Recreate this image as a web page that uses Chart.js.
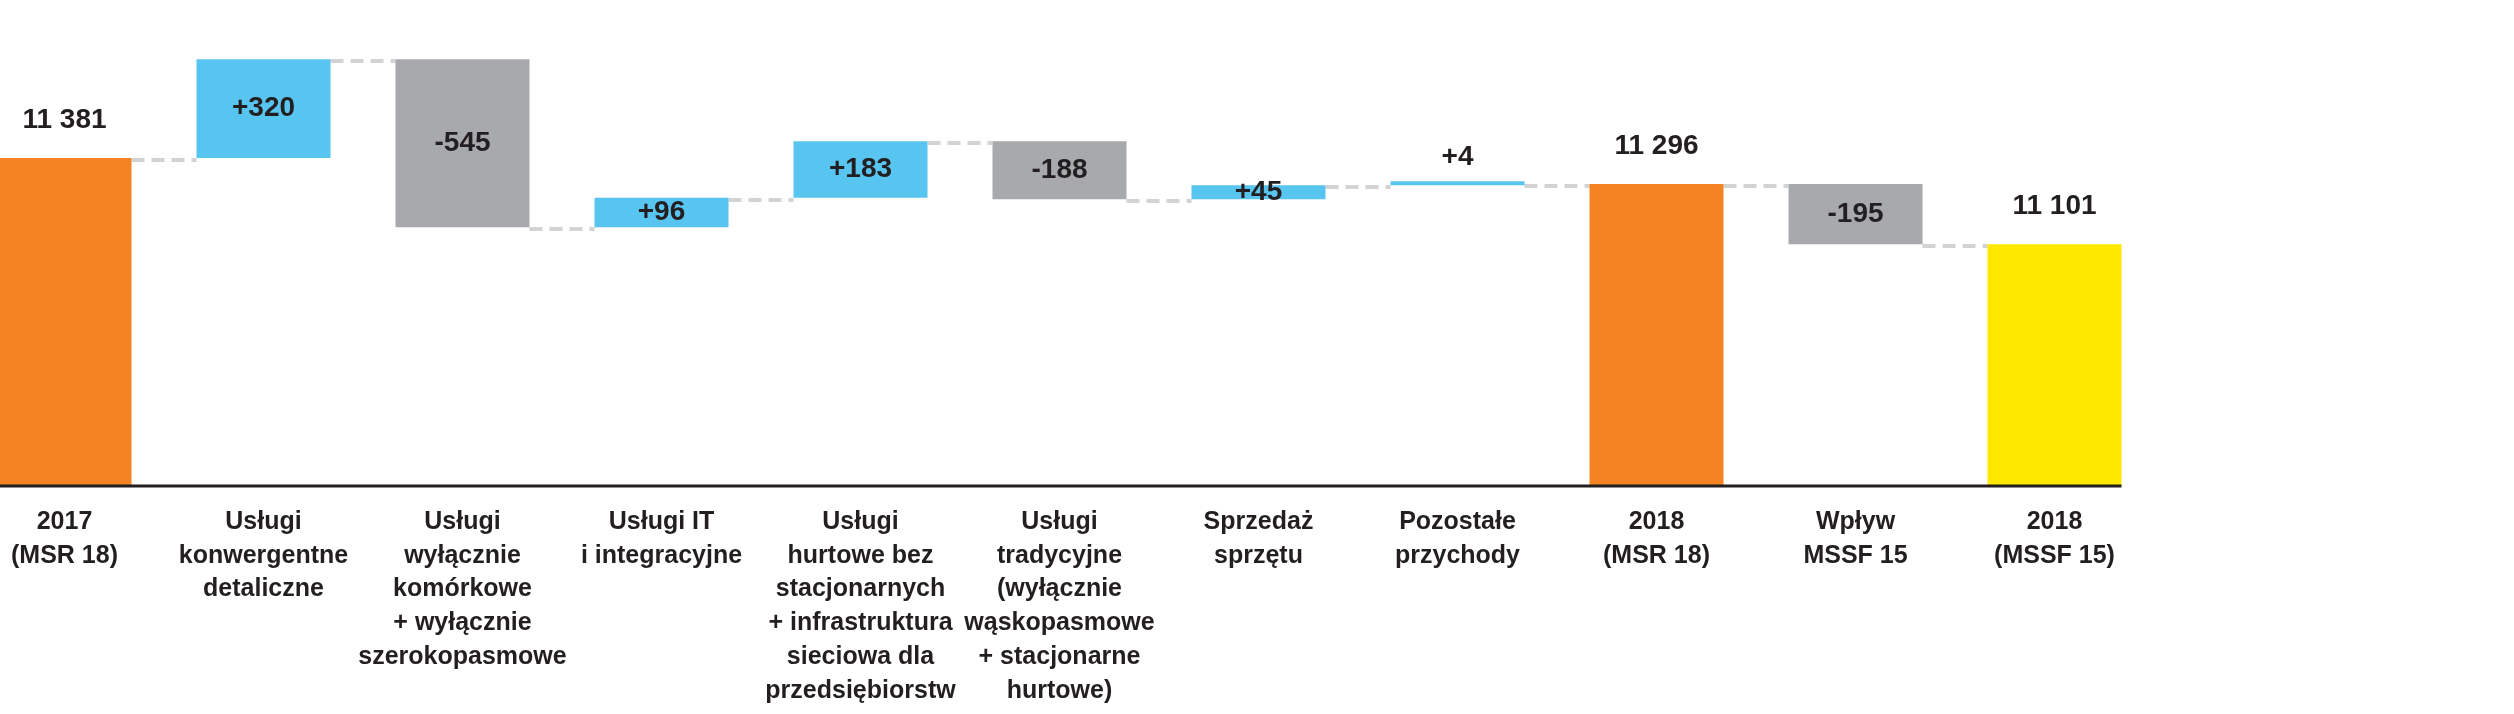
<!DOCTYPE html>
<html>
<head>
<meta charset="utf-8">
<script src="https://cdn.jsdelivr.net/npm/chart.js@4.4.1/dist/chart.umd.min.js"></script>
<style>
  html, body { margin: 0; padding: 0; background: #fff; }
  #wrap { position: relative; width: 2514px; height: 714px; overflow: hidden; }
  #chart { position: absolute; left: -35px; top: 0; }
</style>
</head>
<body>
<div id="wrap"><canvas id="chart" width="2549" height="714"></canvas></div>
<script>
// categories (multi-line tick labels)
const categories = [
    ['2017', '(MSR 18)'],
    ['Usługi', 'konwergentne', 'detaliczne'],
    ['Usługi', 'wyłącznie', 'komórkowe', '+ wyłącznie', 'szerokopasmowe'],
    ['Usługi IT', 'i integracyjne'],
    ['Usługi', 'hurtowe bez', 'stacjonarnych', '+ infrastruktura', 'sieciowa dla', 'przedsiębiorstw'],
    ['Usługi', 'tradycyjne', '(wyłącznie', 'wąskopasmowe', '+ stacjonarne', 'hurtowe)'],
    ['Sprzedaż', 'sprzętu'],
    ['Pozostałe', 'przychody'],
    ['2018', '(MSR 18)'],
    ['Wpływ', 'MSSF 15'],
    ['2018', '(MSSF 15)']
];
// totals are absolute, the rest are changes
const values = [11381, 320, -545, 96, 183, -188, 45, 4, 11296, -195, 11101];
const kinds = ['total', 'delta', 'delta', 'delta', 'delta', 'delta', 'delta', 'delta', 'total', 'delta', 'total'];
const valueLabels = ['11 381', '+320', '-545', '+96', '+183', '-188', '+45', '+4', '11 296', '-195', '11 101'];

const yMin = 10317;
const yMax = 11893;

const ORANGE = '#F48421';
const YELLOW = '#FFE800';
const BLUE = '#58C4F0';
const GREY = '#A8A9AC';
const TEXT = '#231F20';
const FONT = '"Liberation Sans", Arial, sans-serif';

// running levels + floating bars
const levels = [];
const bars = [];
const colors = [];
let level = 0;
for (let i = 0; i < values.length; i++) {
    if (kinds[i] === 'total') {
        level = values[i];
        bars.push([yMin, level]);
        colors.push(i === values.length - 1 ? YELLOW : ORANGE);
    } else {
        bars.push([level, level + values[i]]);
        level += values[i];
        colors.push(values[i] >= 0 ? BLUE : GREY);
    }
    levels.push(level);
}

// dashed connectors between bars
const connectors = {
    id: 'connectors',
    beforeDatasetsDraw(chart) {
        const meta = chart.getDatasetMeta(0);
        const y = chart.scales.y;
        const ctx = chart.ctx;
        ctx.save();
        ctx.strokeStyle = '#D2D3D5';
        ctx.lineWidth = 4;
        ctx.setLineDash([13, 7]);
        for (let i = 0; i < meta.data.length - 1; i++) {
            const a = meta.data[i], b = meta.data[i + 1];
            const py = Math.round(y.getPixelForValue(levels[i])) + 2;
            ctx.beginPath();
            ctx.moveTo(a.x + a.width / 2, py);
            ctx.lineTo(b.x - b.width / 2, py);
            ctx.stroke();
        }
        ctx.restore();
    }
};

// axis line + value labels
const decorations = {
    id: 'decorations',
    afterDatasetsDraw(chart) {
        const meta = chart.getDatasetMeta(0);
        const ctx = chart.ctx;
        const first = meta.data[0], last = meta.data[meta.data.length - 1];
        ctx.save();
        ctx.fillStyle = TEXT;
        ctx.fillRect(first.x - first.width / 2, chart.chartArea.bottom - 1.5, (last.x + last.width / 2) - (first.x - first.width / 2), 3);

        ctx.font = 'bold 28px ' + FONT;
        ctx.textAlign = 'center';
        ctx.textBaseline = 'middle';
        meta.data.forEach((bar, i) => {
            const top = Math.min(bar.y, bar.base);
            const bottom = Math.max(bar.y, bar.base);
            let ty;
            if (kinds[i] === 'total') {
                ty = top - 38;
            } else if (bottom - top < 10) {
                ty = top - 24;
            } else {
                ty = (top + bottom) / 2;
            }
            ctx.fillText(valueLabels[i], bar.x, ty);
        });
        ctx.restore();
    }
};

new Chart(document.getElementById('chart'), {
    type: 'bar',
    data: {
        labels: categories,
        datasets: [{
            data: bars,
            backgroundColor: colors,
            borderWidth: 0,
            borderSkipped: false,
            categoryPercentage: 1,
            barPercentage: 134 / 199,
            minBarLength: 4
        }]
    },
    options: {
        responsive: false,
        animation: false,
        devicePixelRatio: 1,
        layout: { padding: { left: 0, right: 2549 - 11 * 199, top: 0, bottom: 0 } },
        plugins: {
            legend: { display: false },
            tooltip: { enabled: false }
        },
        scales: {
            x: {
                grid: { display: false, drawTicks: false },
                border: { display: false },
                ticks: {
                    color: TEXT,
                    font: { family: FONT, size: 25, weight: 'bold', lineHeight: 1.35 },
                    padding: 19,
                    autoSkip: false,
                    maxRotation: 0,
                    minRotation: 0
                },
                afterFit(scale) { scale.height = 714 - 486; }
            },
            y: {
                display: false,
                min: yMin,
                max: yMax
            }
        }
    },
    plugins: [connectors, decorations]
});
</script>
</body>
</html>
